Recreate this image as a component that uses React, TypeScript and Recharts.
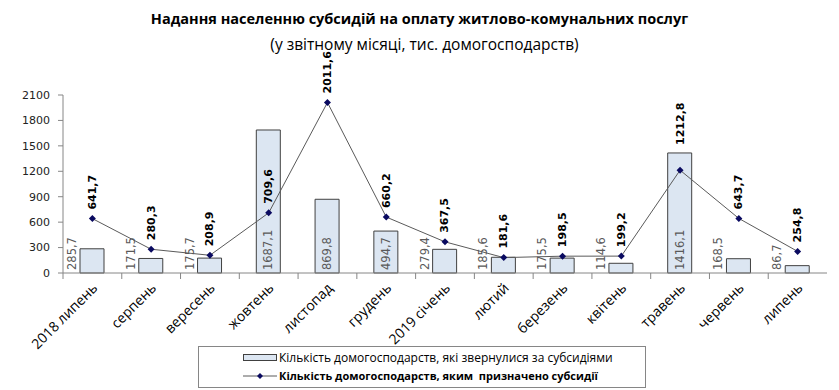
import React from 'react'
import { ComposedChart, Bar, Line, XAxis, YAxis, LabelList } from 'recharts'

const months = [
  '2018 липень', 'серпень', 'вересень', 'жовтень', 'листопад', 'грудень',
  '2019 січень', 'лютий', 'березень', 'квітень', 'травень', 'червень', 'липень',
]
const applied = [285.7, 171.5, 175.7, 1687.1, 869.8, 494.7, 279.4, 185.6, 175.5, 114.6, 1416.1, 168.5, 86.7]
const granted = [641.7, 280.3, 208.9, 709.6, 2011.6, 660.2, 367.5, 181.6, 198.5, 199.2, 1212.8, 643.7, 254.8]
const yTicks = [0, 300, 600, 900, 1200, 1500, 1800, 2100]

const data = months.map((m, i) => ({ month: m, applied: applied[i], granted: granted[i] }))

const W = 839
const H = 390
const LEFT = 63
const RIGHT = 12
const TOP = 95
const PLOT_H = 178
const band = (W - LEFT - RIGHT) / months.length
const perUnit = PLOT_H / 2100

const fmt = (v: number) => v.toFixed(1).replace('.', ',')
const labelFont = '"DejaVu Sans", Verdana, sans-serif'
const textFont = '"Open Sans", "Noto Sans", sans-serif'

const MonthTick = ({ x, y, payload }: any) => (
  <g>
    <line x1={x - band / 2} x2={x - band / 2} y1={y} y2={y + 6} stroke="#868686" />
    <text
      x={x + 6}
      y={y + 16}
      transform={`rotate(-45 ${x + 6} ${y + 16})`}
      textAnchor="end"
      fontFamily={textFont}
      fontSize={14}
      fill="#000"
    >
      {payload.value}
    </text>
  </g>
)

const BarValue = ({ x, y, width, height, value }: any) => {
  const inside = height > 36
  const cx = inside ? x + width / 2 : x - 8
  const by = y + height - 3
  return (
    <text
      x={cx}
      y={by}
      transform={`rotate(-90 ${cx} ${by})`}
      textAnchor="start"
      dominantBaseline="central"
      fontFamily={labelFont}
      fontSize={11.5}
      fill="#595959"
    >
      {fmt(value)}
    </text>
  )
}

const LineValue = ({ x, y, value, index }: any) => {
  const len = 38
  let ty = y - 9
  // keep the label clear of the bar's top edge
  const barTop = y + (value - applied[index]) * perUnit
  if (ty > barTop && ty - len < barTop) ty = barTop - 8
  return (
    <text
      x={x}
      y={ty}
      transform={`rotate(-90 ${x} ${ty})`}
      textAnchor="start"
      dominantBaseline="central"
      fontFamily={labelFont}
      fontSize={11}
      fontWeight="bold"
      fill="#000"
    >
      {fmt(value)}
    </text>
  )
}

const Diamond = ({ cx, cy }: any) => (
  <path d={`M${cx},${cy - 3.5}L${cx + 3.5},${cy}L${cx},${cy + 3.5}L${cx - 3.5},${cy}Z`} fill="#0a0a60" />
)

export default function App() {
  return (
    <div style={{ position: 'absolute', left: 0, top: 0, width: W, height: H, background: '#fff' }}>
      <div
        style={{
          position: 'absolute', top: 8, left: 0, width: W, textAlign: 'center',
          fontFamily: textFont, fontSize: 14.5, fontWeight: 'bold', color: '#000', lineHeight: '22px',
        }}
      >
        Надання населенню субсидій на оплату житлово-комунальних послуг
      </div>
      <div
        style={{
          position: 'absolute', top: 33, left: 5, width: W, textAlign: 'center',
          fontFamily: textFont, fontSize: 15.5, color: '#000', lineHeight: '22px',
        }}
      >
        (у звітному місяці, тис. домогосподарств)
      </div>
      <ComposedChart
        width={W}
        height={H}
        data={data}
        margin={{ top: TOP, right: RIGHT, left: 0, bottom: H - TOP - PLOT_H - 60 }}
        barCategoryGap={0}
      >
        <XAxis
          dataKey="month"
          interval={0}
          height={60}
          tickLine={false}
          tickSize={0}
          tickMargin={0}
          axisLine={{ stroke: '#868686' }}
          tick={<MonthTick />}
        />
        <YAxis
          width={LEFT}
          domain={[0, 2100]}
          ticks={yTicks}
          interval={0}
          tickSize={5}
          tickMargin={8}
          axisLine={{ stroke: '#868686' }}
          tickLine={{ stroke: '#868686' }}
          tick={{ fontFamily: labelFont, fontSize: 11, fill: '#222' }}
        />
        <Bar dataKey="applied" barSize={24} fill="#dce6f2" stroke="#404040" strokeWidth={1} isAnimationActive={false}>
          <LabelList dataKey="applied" content={<BarValue />} />
        </Bar>
        <Line
          dataKey="granted"
          type="linear"
          stroke="#5a5a5a"
          strokeWidth={1}
          dot={<Diamond />}
          activeDot={false}
          isAnimationActive={false}
        >
          <LabelList dataKey="granted" content={<LineValue />} />
        </Line>
      </ComposedChart>
      <div
        style={{
          position: 'absolute', left: 198, top: 346, width: 448, height: 42,
          border: '1px solid #868686', boxSizing: 'border-box',
          fontFamily: textFont, color: '#000',
        }}
      >
        <div style={{ position: 'absolute', left: 44, top: 2, display: 'flex', alignItems: 'center', height: 17, fontSize: 12 }}>
          <svg width={34} height={8} style={{ marginRight: 2 }}>
            <rect x={0.5} y={0.5} width={33} height={6} fill="#dce6f2" stroke="#404040" />
          </svg>
          <span>Кількість домогосподарств, які звернулися за субсидіями</span>
        </div>
        <div style={{ position: 'absolute', left: 44, top: 20, display: 'flex', alignItems: 'center', height: 17, fontSize: 11 }}>
          <svg width={34} height={8} style={{ marginRight: 2 }}>
            <line x1={0} x2={34} y1={4} y2={4} stroke="#5a5a5a" />
            <path d="M17,1L20,4L17,7L14,4Z" fill="#0a0a60" />
          </svg>
          <span style={{ fontWeight: 'bold' }}>Кількість домогосподарств, яким&nbsp; призначено субсидії</span>
        </div>
      </div>
    </div>
  )
}
